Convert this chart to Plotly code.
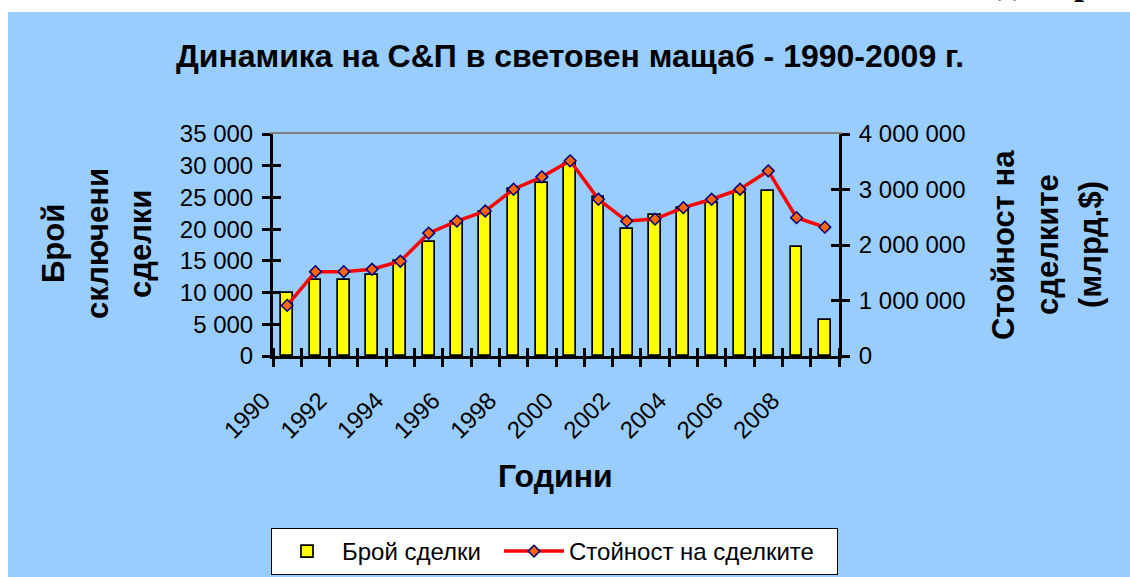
import plotly.graph_objects as go

years = list(range(1990, 2010))
deals = [10000, 12000, 12000, 12700, 15000, 18000, 21200, 22700, 26300, 27300,
         30200, 25000, 20000, 22200, 23400, 24200, 25700, 26000, 17200, 5700]
values = [911000, 1520000, 1520000, 1563000, 1707000, 2214000, 2431000, 2612000, 3005000, 3228000,
          3517000, 2824000, 2431000, 2467000, 2673000, 2824000, 3005000, 3336000, 2492000, 2322000]
label_years = years[::2]
label_text = [str(y) for y in label_years]
left_ticks = [0, 5000, 10000, 15000, 20000, 25000, 30000, 35000]
right_ticks = [0, 1000000, 2000000, 3000000, 4000000]

title_text = "Динамика на С&П в световен мащаб - 1990-2009 г."
x_title = "Години"
left_title = ["Брой", "сключени", "сделки"]
right_title = ["Стойност на", "сделките", "(млрд.$)"]
legend_names = ["Брой сделки", "Стойност на сделките"]

W, H = 1130, 577
L, R, T, B = 273, 839, 134, 356
FONT = "Liberation Sans, Arial, sans-serif"
BLUE = "#99CCFF"


def px(x):
    return (x - L) / (R - L)


def py(y):
    return (B - y) / (B - T)


boundaries = [y - 0.5 for y in years] + [years[-1] + 0.5]
xr = [years[0] - 0.5, years[-1] + 0.5]
yr1 = [left_ticks[0], left_ticks[-1]]
yr2 = [right_ticks[0], right_ticks[-1]]

fig = go.Figure()
fig.add_trace(go.Bar(
    x=years, y=deals, name=legend_names[0], width=0.42, legendwidth=152,
    marker=dict(color="#FFFF00", line=dict(color="black", width=1.7)),
    xaxis="x", yaxis="y"))
fig.add_trace(go.Scatter(
    x=years, y=values, name=legend_names[1], mode="lines+markers", legendwidth=263,
    line=dict(color="#FF0000", width=3.5),
    marker=dict(symbol="diamond", size=9, color="#FF6600",
                line=dict(color="#000080", width=1.5)),
    xaxis="x", yaxis="y2"))
# helper empty traces so overlay axes get drawn
for xa, ya in [("x3", "y"), ("x4", "y"), ("x", "y3"), ("x", "y4")]:
    fig.add_trace(go.Scatter(x=[], y=[], xaxis=xa, yaxis=ya, showlegend=False, hoverinfo="skip"))

tickfont = dict(family=FONT, size=24, color="black")

fig.update_layout(
    width=W, height=H,
    margin=dict(l=L, r=W - R, t=T, b=H - B, pad=0, autoexpand=False),
    paper_bgcolor="white",
    plot_bgcolor="rgba(0,0,0,0)",
    separators=". ",
    showlegend=True,
    bargap=0,
    title=dict(text="<b>" + title_text + "</b>", x=570 / W, xanchor="center",
               y=1 - 56 / H, yanchor="middle", xref="container", yref="container",
               font=dict(family=FONT, size=32, color="black")),
    xaxis=dict(domain=[0, 1], range=xr, tickmode="array", tickvals=label_years,
               ticktext=label_text, tickangle=-45, ticks="", tickfont=tickfont,
               ticklabelstandoff=18, ticklabelshift=-24,
               showline=True, linecolor="black", linewidth=3, showgrid=False,
               zeroline=False, anchor="y",
               minor=dict(tickmode="array", tickvals=boundaries, ticks="outside",
                          ticklen=8, tickwidth=3, tickcolor="black", showgrid=False)),
    xaxis3=dict(overlaying="x", range=xr, anchor="y", showline=False, showgrid=False,
                zeroline=False, ticks="", showticklabels=False,
                minor=dict(tickmode="array", tickvals=boundaries, ticks="inside",
                           ticklen=8, tickwidth=3, tickcolor="black", showgrid=False)),
    xaxis4=dict(overlaying="x", range=xr, anchor="y", side="top", showline=True,
                linecolor="#808080", linewidth=2, showgrid=False, zeroline=False,
                ticks="", showticklabels=False),
    yaxis=dict(range=yr1, tickmode="array", tickvals=left_ticks, tickformat=",d",
               ticks="outside", ticklen=8, tickwidth=3, tickcolor="black",
               tickfont=tickfont, showline=True, linecolor="black", linewidth=3,
               showgrid=False, zeroline=False, anchor="x", ticklabelstandoff=4),
    yaxis3=dict(overlaying="y", range=yr1, side="left", anchor="x", tickmode="array",
                tickvals=left_ticks, ticks="inside", ticklen=8, tickwidth=3,
                tickcolor="black", showticklabels=False, showline=False,
                showgrid=False, zeroline=False),
    yaxis2=dict(overlaying="y", range=yr2, side="right", anchor="x", tickmode="array",
                tickvals=right_ticks, tickformat=",d", ticks="outside", ticklen=8,
                tickwidth=3, tickcolor="black", tickfont=tickfont, showline=True,
                linecolor="black", linewidth=3, showgrid=False, zeroline=False,
                ticklabelstandoff=4),
    yaxis4=dict(overlaying="y", range=yr2, side="right", anchor="x", tickmode="array",
                tickvals=right_ticks, ticks="inside", ticklen=8, tickwidth=3,
                tickcolor="black", showticklabels=False, showline=False,
                showgrid=False, zeroline=False),
    legend=dict(orientation="h", x=px(271), xanchor="left", y=py(551.5), yanchor="middle",
                bgcolor="white", bordercolor="black", borderwidth=1, itemwidth=60,
                font=dict(family=FONT, size=24, color="black"),
                traceorder="normal"),
)

# blue chart area background
fig.add_shape(type="rect", xref="paper", yref="paper", layer="below",
              x0=px(8), x1=px(W + 5), y0=py(H + 5), y1=py(12),
              fillcolor=BLUE, line=dict(width=0))

ann = []
# x axis title
ann.append(dict(text="<b>" + x_title + "</b>", x=px(555), y=py(476), xanchor="center",
                yanchor="middle", showarrow=False,
                font=dict(family=FONT, size=32, color="black")))
for txt, cx in zip(left_title, [53, 97, 140]):
    ann.append(dict(text="<b>" + txt + "</b>", x=px(cx), y=py(244), xanchor="center",
                    yanchor="middle", textangle=-90, showarrow=False,
                    font=dict(family=FONT, size=31, color="black")))
for txt, cx in zip(right_title, [1003, 1047, 1090]):
    ann.append(dict(text="<b>" + txt + "</b>", x=px(cx), y=py(245), xanchor="center",
                    yanchor="middle", textangle=-90, showarrow=False,
                    font=dict(family=FONT, size=31, color="black")))
# clipped page heading at the top right
for txt, lx in [("д", 996), ("р", 1072)]:
    ann.append(dict(text="<b>" + txt + "</b>", x=px(lx), y=py(4), xanchor="left",
                    yanchor="bottom", showarrow=False,
                    font=dict(family="Liberation Serif, serif", size=36, color="black")))
for a in ann:
    a.update(xref="paper", yref="paper")
fig.update_layout(annotations=ann)

fig.write_html("out.html", config={"displayModeBar": False},
               post_script="document.body.style.margin='0px';document.body.style.overflow='hidden';")
